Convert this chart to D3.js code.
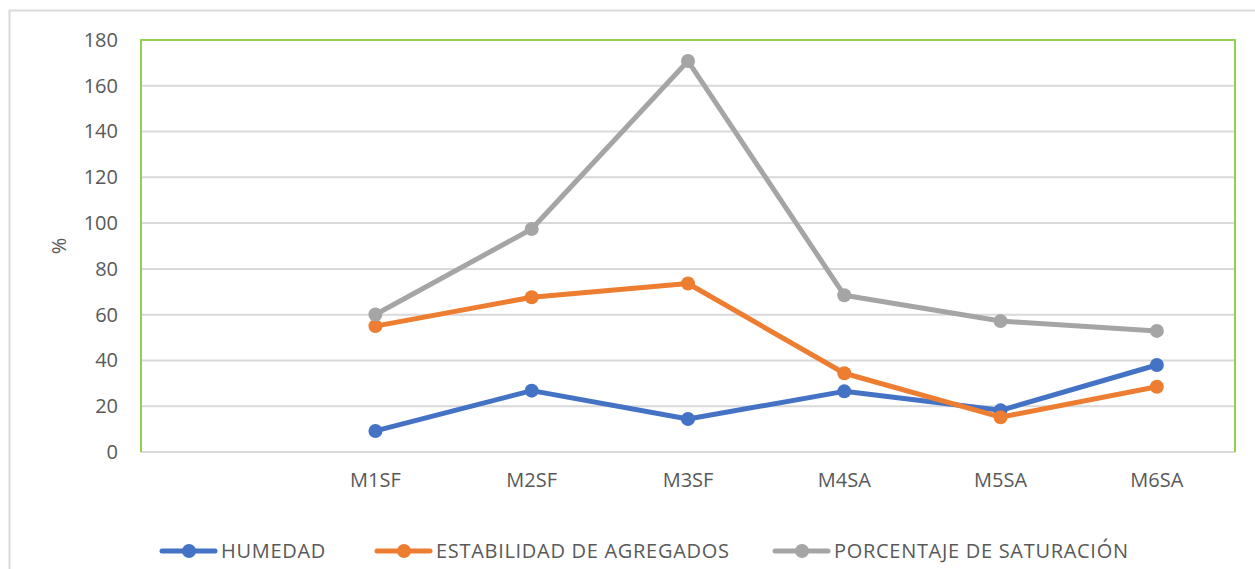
<!DOCTYPE html>
<meta charset="utf-8">
<head>
<style>
  body { margin: 0; background: #fff; }
  text { font-family: "Open Sans", "Noto Sans", sans-serif; fill: #595959; }
  .grid line { stroke: #d9d9d9; stroke-width: 2px; }
  .serie { fill: none; stroke-width: 5px; stroke-linejoin: round; stroke-linecap: round; }
</style>
</head>
<body>
<div id="content"></div>
<script src="https://d3js.org/d3.v7.min.js"></script>
<script>
// first slot on the axis is empty in the original chart
var categories = ["", "M1SF", "M2SF", "M3SF", "M4SA", "M5SA", "M6SA"];
var humedad     = [null, 9.2, 26.8, 14.4, 26.5, 18.2, 38.0];
var estabilidad = [null, 55.0, 67.6, 73.6, 34.4, 15.2, 28.5];
var saturacion  = [null, 60.1, 97.4, 170.8, 68.5, 57.2, 52.9];
var yTicks = [0, 20, 40, 60, 80, 100, 120, 140, 160, 180];
var seriesNames = ["HUMEDAD", "ESTABILIDAD DE AGREGADOS", "PORCENTAJE DE SATURACIÓN"];
var colors = ["#4472c4", "#ed7d31", "#a5a5a5"];

var W = 1255, H = 569;
var plot = {left: 141, right: 1235, top: 40, bottom: 452};

var svg = d3.select("#content").append("svg")
    .attr("width", W).attr("height", H);

// chart frame
svg.append("rect")
    .attr("x", 9.5).attr("y", 10.5)
    .attr("width", 1260).attr("height", 600)
    .attr("fill", "none").attr("stroke", "#d9d9d9").attr("stroke-width", 2);

var x = d3.scaleBand().domain(categories).range([plot.left, plot.right]);
var y = d3.scaleLinear().domain([0, 180]).range([plot.bottom, plot.top]);

// gridlines
svg.append("g").attr("class", "grid")
  .selectAll("line").data(yTicks).enter().append("line")
    .attr("x1", plot.left).attr("x2", plot.right)
    .attr("y1", function(d) { return y(d); }).attr("y2", function(d) { return y(d); });

// green plot border (top, left, right)
svg.append("path")
    .attr("d", "M" + plot.left + "," + plot.bottom + "V" + plot.top + "H" + plot.right + "V" + plot.bottom)
    .attr("fill", "none").attr("stroke", "#92d050").attr("stroke-width", 2);

// y axis
var yAxis = svg.append("g")
    .attr("transform", "translate(" + (plot.left - 23) + ",0)")
    .call(d3.axisLeft(y).tickValues(yTicks).tickSize(0).tickPadding(0));
yAxis.select(".domain").remove();
yAxis.selectAll("text").style("font-size", "20px").attr("fill", "#595959");

// x axis
var xAxis = svg.append("g")
    .attr("transform", "translate(0," + (plot.bottom + 21) + ")")
    .call(d3.axisBottom(x).tickSize(0).tickPadding(0));
xAxis.select(".domain").remove();
xAxis.selectAll("text").style("font-size", "20px").attr("fill", "#595959").attr("dy", "0.71em");

// y title
svg.append("text")
    .attr("transform", "translate(66,246) rotate(-90)")
    .attr("text-anchor", "middle")
    .style("font-size", "20px")
    .text("%");

var allSeries = [humedad, estabilidad, saturacion];

var line = d3.line()
    .defined(function(d) { return d != null; })
    .x(function(d, i) { return x(categories[i]) + x.bandwidth() / 2; })
    .y(function(d) { return y(d); });

allSeries.forEach(function(vals, k) {
  svg.append("path").attr("class", "serie")
      .attr("d", line(vals))
      .attr("stroke", colors[k]);
  svg.selectAll(".pt" + k)
    .data(vals.map(function(v, i) { return {v: v, c: categories[i]}; }).filter(function(d) { return d.v != null; }))
    .enter().append("circle")
      .attr("cx", function(d) { return x(d.c) + x.bandwidth() / 2; })
      .attr("cy", function(d) { return y(d.v); })
      .attr("r", 7)
      .attr("fill", colors[k]);
});

// legend
var legendX = [160, 375, 773];
var lg = svg.append("g").attr("transform", "translate(0,551)");
seriesNames.forEach(function(name, k) {
  var g = lg.append("g").attr("transform", "translate(" + legendX[k] + ",0)");
  g.append("line").attr("x1", 2).attr("x2", 55).attr("y1", 0).attr("y2", 0)
      .attr("stroke", colors[k]).attr("stroke-width", 5).attr("stroke-linecap", "round");
  g.append("circle").attr("cx", 29).attr("cy", 0).attr("r", 7).attr("fill", colors[k]);
  g.append("text").attr("x", 61).attr("dy", "0.35em")
      .style("font-size", "20px").style("letter-spacing", "0.7px")
      .text(name);
});
</script>
</body>
</html>
